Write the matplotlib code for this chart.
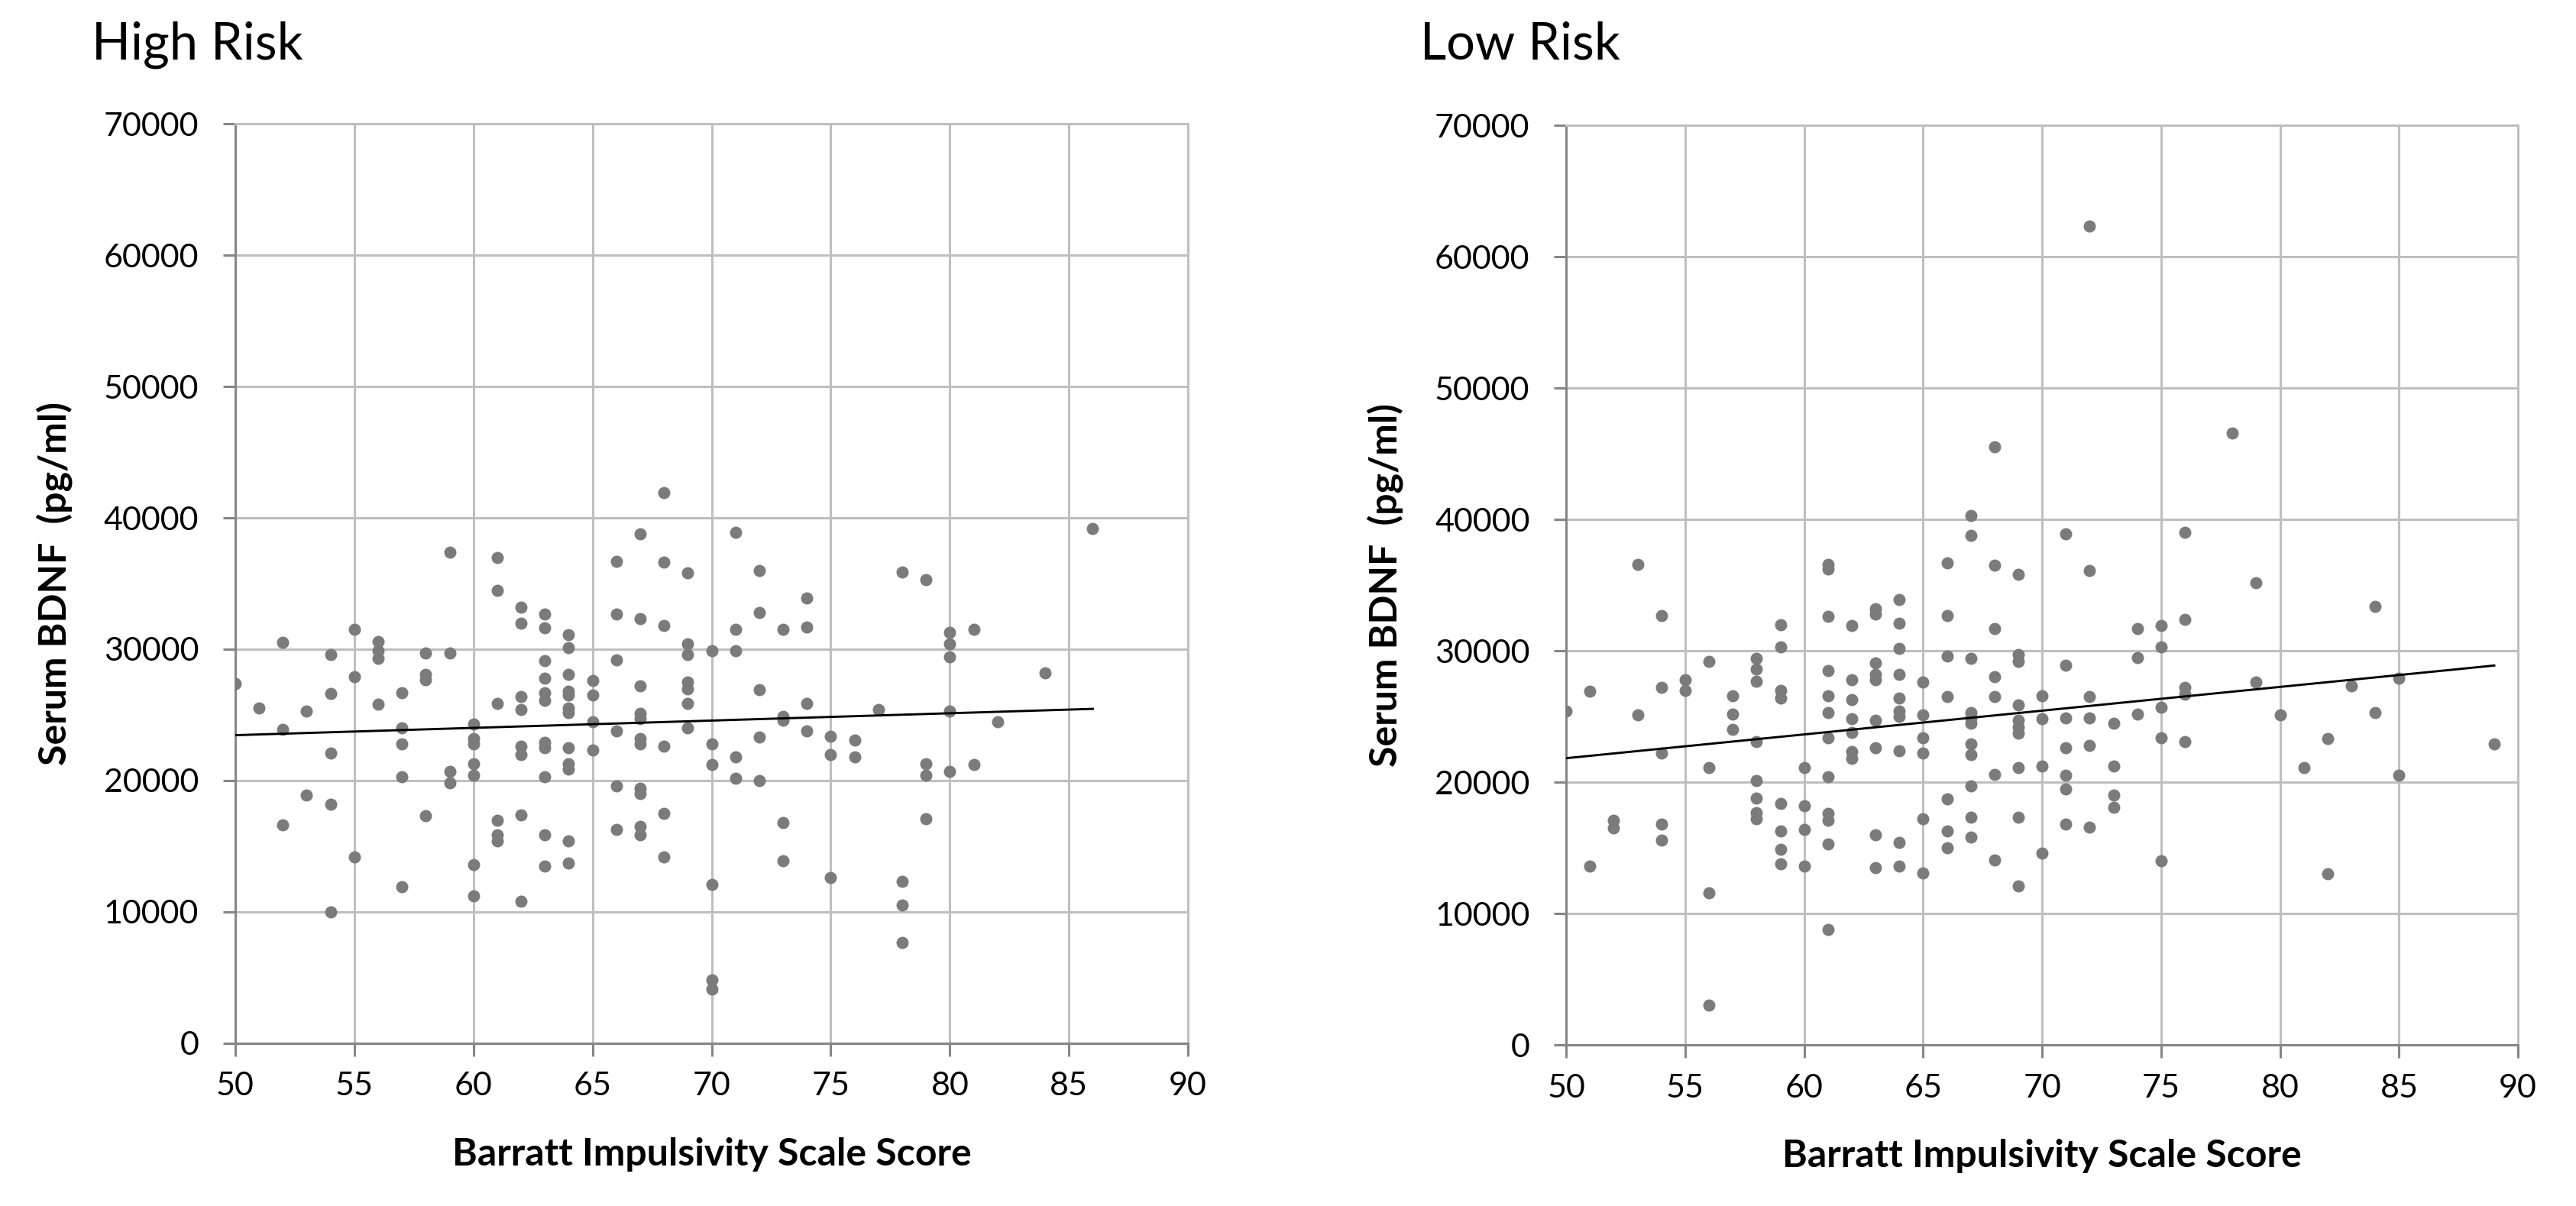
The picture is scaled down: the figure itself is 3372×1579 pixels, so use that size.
import matplotlib
matplotlib.use("Agg")
import matplotlib.pyplot as plt
import numpy as np

# Barratt impulsivity score (x) and serum BDNF in pg/ml (y)
# one line per score value, so the two lists stay aligned
high_risk_score = [
    50,
    51,
    52, 52, 52,
    53, 53,
    54, 54, 54, 54, 54,
    55, 55, 55,
    56, 56, 56, 56,
    57, 57, 57, 57, 57,
    58, 58, 58, 58,
    59, 59, 59, 59,
    60, 60, 60, 60, 60, 60, 60,
    61, 61, 61, 61, 61, 61,
    62, 62, 62, 62, 62, 62, 62, 62,
    63, 63, 63, 63, 63, 63, 63, 63, 63, 63, 63,
    64, 64, 64, 64, 64, 64, 64, 64, 64, 64, 64, 64,
    65, 65, 65, 65,
    66, 66, 66, 66, 66, 66,
    67, 67, 67, 67, 67, 67, 67, 67, 67, 67, 67,
    68, 68, 68, 68, 68, 68,
    69, 69, 69, 69, 69, 69, 69,
    70, 70, 70, 70, 70, 70,
    71, 71, 71, 71, 71,
    72, 72, 72, 72, 72,
    73, 73, 73, 73, 73,
    74, 74, 74, 74,
    75, 75, 75,
    76, 76,
    77,
    78, 78, 78, 78,
    79, 79, 79, 79,
    80, 80, 80, 80, 80,
    81, 81,
    82,
    84,
    86,
]
high_risk_bdnf = [
    27400,
    25500,
    30500, 23900, 16600,
    25300, 18900,
    29600, 26600, 22100, 18200, 10000,
    31500, 27900, 14200,
    30600, 29900, 29300, 25800,
    26700, 24000, 22800, 20300, 11900,
    29700, 28100, 27700, 17300,
    37400, 29700, 20700, 19800,
    24300, 23200, 22800, 21300, 20400, 13600, 11200,
    37000, 34500, 25900, 17000, 15900, 15400,
    33200, 32000, 26400, 25400, 22600, 22000, 17400, 10800,
    32700, 31600, 29100, 27800, 26700, 26100, 22900, 22500, 20300, 15900, 13500,
    31100, 30100, 28100, 26800, 26500, 25500, 25200, 22500, 21300, 20900, 15400, 13700,
    27600, 26500, 24500, 22300,
    36700, 32700, 29200, 23800, 19600, 16300,
    38800, 32300, 27200, 25100, 24700, 23200, 22800, 19400, 19000, 16500, 15900,
    41900, 36600, 31800, 22600, 17500, 14200,
    35800, 30400, 29600, 27500, 27000, 25900, 24000,
    29900, 22800, 21200, 12100, 4800, 4100,
    38900, 31500, 29900, 21800, 20200,
    36000, 32800, 26900, 23300, 20000,
    31500, 24900, 24600, 16800, 13900,
    33900, 31700, 25900, 23800,
    23400, 22000, 12600,
    23100, 21800,
    25400,
    35900, 12300, 10500, 7700,
    35300, 21300, 20400, 17100,
    31300, 30400, 29400, 25300, 20700,
    31500, 21200,
    24500,
    28200,
    39200,
]

low_risk_score = [
    50,
    51, 51,
    52, 52,
    53, 53,
    54, 54, 54, 54, 54,
    55, 55,
    56, 56, 56, 56,
    57, 57, 57,
    58, 58, 58, 58, 58, 58, 58, 58,
    59, 59, 59, 59, 59, 59, 59, 59,
    60, 60, 60, 60,
    61, 61, 61, 61, 61, 61, 61, 61, 61, 61, 61, 61,
    62, 62, 62, 62, 62, 62, 62,
    63, 63, 63, 63, 63, 63, 63, 63, 63,
    64, 64, 64, 64, 64, 64, 64, 64, 64, 64,
    65, 65, 65, 65, 65, 65,
    66, 66, 66, 66, 66, 66, 66,
    67, 67, 67, 67, 67, 67, 67, 67, 67, 67, 67,
    68, 68, 68, 68, 68, 68, 68,
    69, 69, 69, 69, 69, 69, 69, 69, 69, 69,
    70, 70, 70, 70,
    71, 71, 71, 71, 71, 71, 71,
    72, 72, 72, 72, 72, 72,
    73, 73, 73, 73,
    74, 74, 74,
    75, 75, 75, 75, 75,
    76, 76, 76, 76, 76,
    78,
    79, 79,
    80,
    81,
    82, 82,
    83,
    84, 84,
    85, 85,
    89,
]
low_risk_bdnf = [
    25400,
    26900, 13600,
    17100, 16500,
    36600, 25100,
    32700, 27200, 22200, 16800, 15600,
    27800, 27000,
    29200, 21100, 11600, 3000,
    26600, 25200, 24000,
    29400, 28600, 27700, 23100, 20100, 18800, 17700, 17200,
    32000, 30300, 27000, 26400, 18400, 16300, 14900, 13800,
    21100, 18200, 16400, 13600,
    36600, 36200, 32600, 28500, 26600, 25300, 23400, 20400, 17600, 17100, 15300, 8800,
    31900, 27800, 26300, 24800, 23800, 22300, 21800,
    33200, 32800, 29100, 28200, 27800, 24700, 22600, 16000, 13500,
    33900, 32100, 30200, 28200, 26400, 25400, 25000, 22400, 15400, 13600,
    27600, 25100, 23400, 22200, 17200, 13100,
    36700, 32700, 29600, 26500, 18700, 16300, 15000,
    40300, 38800, 29400, 25300, 24900, 24500, 22900, 22100, 19700, 17300, 15800,
    45500, 36500, 31700, 28000, 26500, 20600, 14100,
    35800, 29700, 29200, 25900, 24700, 24200, 23700, 21100, 17300, 12100,
    26600, 24800, 21200, 14600,
    38900, 28900, 24900, 22600, 20500, 19500, 16800,
    62300, 36100, 26500, 24900, 22800, 16600,
    24500, 21200, 19000, 18100,
    31700, 29500, 25200,
    31900, 30300, 25700, 23400, 14000,
    39000, 32400, 27200, 26700, 23100,
    46600,
    35200, 27600,
    25100,
    21100,
    23300, 13000,
    27300,
    33400, 25300,
    27900, 20500,
    22900,
]

x_ticks = [50, 55, 60, 65, 70, 75, 80, 85, 90]
y_ticks = [0, 10000, 20000, 30000, 40000, 50000, 60000, 70000]

panel_titles = ["High Risk", "Low Risk"]
x_label = "Barratt Impulsivity Scale Score"
y_label = "Serum BDNF  (pg/ml)"

plt.rcParams['font.family'] = ['Lato', 'DejaVu Sans']

grid_color = "#bfbfbf"
axis_color = "#868686"
dot_color = "#7b7b7b"

fig = plt.figure(figsize=(33.72, 15.79), dpi=100)

left_ax = fig.add_axes([0.0913, 0.1349, 0.3699, 0.7625])
right_ax = fig.add_axes([0.6080, 0.1336, 0.3695, 0.7625])

def draw_panel(ax, scores, bdnf):
    scores = np.array(scores)
    bdnf = np.array(bdnf)
    ax.plot(scores, bdnf, 'o', color=dot_color, markersize=11.5, markeredgewidth=0, zorder=3)

    #linear trend line over the range of the data
    slope, intercept = np.polyfit(scores, bdnf, 1)
    line_x = np.array([scores.min(), scores.max()])
    ax.plot(line_x, slope * line_x + intercept, color='black', linewidth=2.1, zorder=4)

    ax.set_xlim(50, 90)
    ax.set_ylim(0, 70000)
    ax.set_xticks(x_ticks)
    ax.set_yticks(y_ticks)
    ax.set_xticklabels([str(t) for t in x_ticks])
    ax.set_yticklabels([str(t) for t in y_ticks])
    ax.grid(True, color=grid_color, linewidth=2.2, zorder=0)
    ax.set_axisbelow(True)

    for side in ['top', 'right']:
        ax.spines[side].set_color(grid_color)
        ax.spines[side].set_linewidth(2.2)
    for side in ['left', 'bottom']:
        ax.spines[side].set_color(axis_color)
        ax.spines[side].set_linewidth(2.2)

    ax.tick_params(axis='y', direction='out', length=11.3, width=2.2, color=axis_color,
                   pad=23, labelsize=31)
    ax.tick_params(axis='x', direction='out', length=12, width=2.2, color=axis_color,
                   pad=15, labelsize=31)

    ax.set_xlabel(x_label, fontsize=36, fontweight='bold', va='center')
    ax.xaxis.set_label_coords(0.5, -0.121)
    ax.set_ylabel(y_label, fontsize=36, fontweight='bold', va='center')
    ax.yaxis.set_label_coords(-0.190, 0.5)

draw_panel(left_ax, high_risk_score, high_risk_bdnf)
draw_panel(right_ax, low_risk_score, low_risk_bdnf)

fig.text(0.0357, 0.951, panel_titles[0], fontsize=48, va='baseline', ha='left')
fig.text(0.5512, 0.951, panel_titles[1], fontsize=48, va='baseline', ha='left')

fig.savefig("out.png", dpi=100, facecolor='white')
